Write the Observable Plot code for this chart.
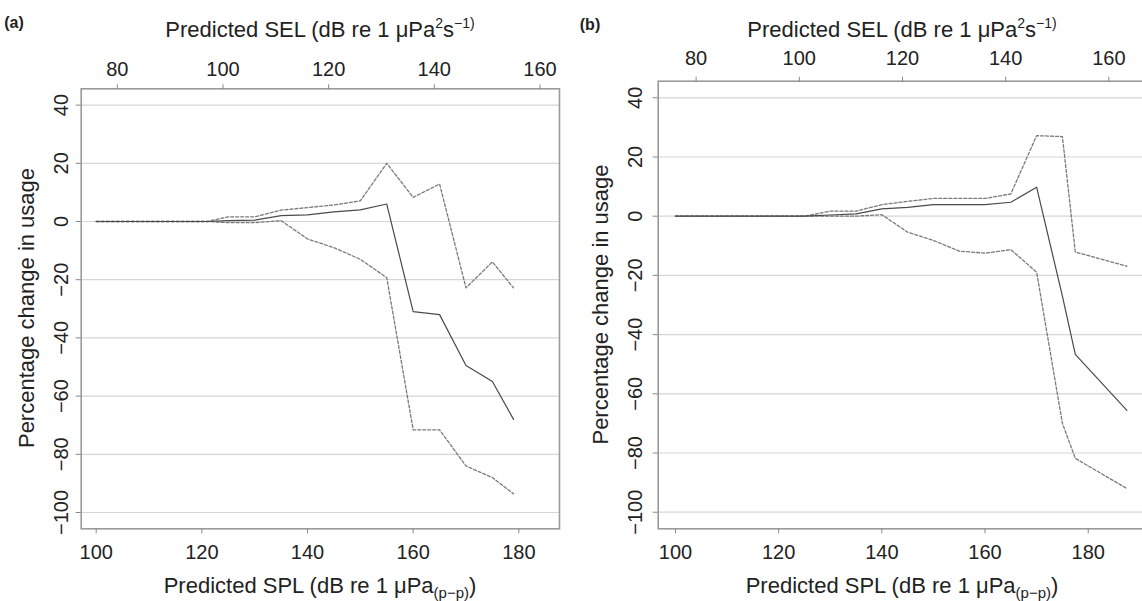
<!DOCTYPE html>
<html><head><meta charset="utf-8">
<script src="https://cdn.jsdelivr.net/npm/d3@7"></script>
<script src="https://cdn.jsdelivr.net/npm/@observablehq/plot@0.6"></script>
<style>
html,body{margin:0;padding:0;background:#fff;overflow:hidden;}
#wrap{position:relative;width:1142px;height:601px;overflow:hidden;background:#fff;}
#wrap svg{position:absolute;top:0;}
</style></head><body><div id="wrap"></div>
<script>
// ---- data ----
const splTicks = [100, 120, 140, 160, 180];
const selTicks = [80, 100, 120, 140, 160];
const yTicks = [-100, -80, -60, -40, -20, 0, 20, 40];
const selOffset = 24; // SEL = SPL - 24

// panel (a)
const splA   = [100, 121, 125, 130, 135, 140, 145, 150, 155, 160, 165, 170, 175, 179];
const fitA   = [0, 0, 0.3, 0.5, 2, 2.3, 3.3, 4, 6, -31, -32, -49.5, -55, -68];
const upperA = [0, 0, 1.6, 1.6, 3.9, 4.8, 5.7, 7.1, 20, 8.3, 12.9, -22.8, -13.9, -22.8];
const lowerA = [0, 0, -0.4, -0.4, 0.3, -6, -9, -13, -19.3, -71.6, -71.6, -84, -88, -93.6];

// panel (b)
const splB   = [100, 125, 130, 135, 140, 145, 150, 155, 160, 165, 170, 175, 177.5, 187.5];
const fitB   = [0, 0, 0.4, 0.8, 2.5, 3, 3.9, 3.9, 3.9, 4.7, 9.8, -27, -46.7, -65.6];
const upperB = [0, 0, 1.7, 1.7, 3.9, 5, 6, 6, 6, 7.5, 27.2, 26.9, -12.1, -16.9];
const lowerB = [0, 0, 0, 0, 0.5, -5.4, -8.2, -11.8, -12.5, -11.3, -18.9, -70, -81.8, -92];

const yDomain = [-105.6, 45.6];
const FONT = "'Liberation Sans', Arial, Helvetica, sans-serif";

function panel(cfg) {
  const rows = [];
  cfg.spl.forEach((x, i) => {
    rows.push({spl: x, v: cfg.fit[i], s: "fit"});
    rows.push({spl: x, v: cfg.upper[i], s: "upper"});
    rows.push({spl: x, v: cfg.lower[i], s: "lower"});
  });
  const svg = Plot.plot({
    width: cfg.width, height: 601,
    marginLeft: cfg.ml, marginRight: cfg.mr, marginTop: cfg.mt, marginBottom: cfg.mb,
    x: {domain: cfg.xDomain},
    y: {domain: yDomain},
    style: {background: "transparent", fontFamily: FONT, fontSize: "20px", color: "#222", overflow: "visible"},
    marks: [
      Plot.gridY(yTicks, {stroke: "#d6d6d6", strokeOpacity: 1, strokeWidth: 1.2}),
      Plot.line(rows.filter(d => d.s !== "fit"), {x: "spl", y: "v", z: "s", stroke: "#7a7a7a", strokeWidth: 1.3, strokeDasharray: "3,2"}),
      Plot.line(rows.filter(d => d.s === "fit"), {x: "spl", y: "v", stroke: "#4a4a4a", strokeWidth: 1.2}),
      Plot.frame({stroke: "#9a9a9a", strokeWidth: 1.6}),
      Plot.axisX(splTicks, {anchor: "bottom", tickSize: 5, tickPadding: 11, label: null, stroke: "#888", fill: "#222"}),
      Plot.axisX(selTicks.map(d => d + selOffset), {anchor: "top", tickSize: 5, tickPadding: cfg.topPad, label: null, stroke: "#888", fill: "#222", tickFormat: d => String(d - selOffset)}),
      Plot.axisY(yTicks, {anchor: "left", tickRotate: -90, tickSize: 5, tickPadding: cfg.yPad, label: null, stroke: "#888", fill: "#222"})
    ]
  });
  svg.style.left = cfg.left + "px";
  const s = d3.select(svg);
  const g = s.append("g").attr("font-family", FONT).attr("fill", "#222");
  // panel letter
  g.append("text").attr("x", cfg.letterX).attr("y", cfg.letterY).attr("font-size", 16).attr("font-weight", "bold").text(cfg.letter);
  // top title (SEL)
  const t1 = g.append("text").attr("x", cfg.cx).attr("y", cfg.selY).attr("text-anchor", "middle").attr("font-size", 22);
  t1.append("tspan").text("Predicted SEL (dB re 1 μPa");
  t1.append("tspan").attr("font-size", 14).attr("dy", -9).text("2");
  t1.append("tspan").attr("dy", 9).text("s");
  t1.append("tspan").attr("font-size", 14).attr("dy", -9).text("−1)");
  t1.append("tspan").attr("dy", 9).text("");
  // bottom title (SPL)
  const t2 = g.append("text").attr("x", cfg.cx).attr("y", 593).attr("text-anchor", "middle").attr("font-size", 22);
  t2.append("tspan").text("Predicted SPL (dB re 1 μPa");
  t2.append("tspan").attr("font-size", 15).attr("dy", 5).text("(p−p)");
  t2.append("tspan").attr("dy", -5).text(")");
  // y title
  g.append("text").attr("transform", `translate(${cfg.yTitleX},${cfg.yTitleY}) rotate(-90)`)
    .attr("text-anchor", "middle").attr("font-size", 22).text("Percentage change in usage");
  document.getElementById("wrap").appendChild(svg);
}

// panel (a): frame x 80.7..559, y 88.3..528.3
panel({
  left: 0, width: 571, ml: 80.7, mr: 12, mt: 88.3, mb: 72.7,
  xDomain: [97.16, 187.7], spl: splA, fit: fitA, upper: upperA, lower: lowerA,
  topPad: 8, yPad: 8.5, letter: "(a)", letterX: 14, letterY: 28,
  cx: 320, selY: 37, yTitleX: 34, yTitleY: 308
});
// panel (b): frame x 657.7..1146, y 80.7..528.3
panel({
  left: 571, width: 576, ml: 86.7, mr: 1, mt: 80.7, mb: 72.7,
  xDomain: [96.65, 191.3], spl: splB, fit: fitB, upper: upperB, lower: lowerB,
  topPad: 11, yPad: 11.5, letter: "(b)", letterX: 19, letterY: 30,
  cx: 331, selY: 37, yTitleX: 37, yTitleY: 304.5
});
</script></body></html>
